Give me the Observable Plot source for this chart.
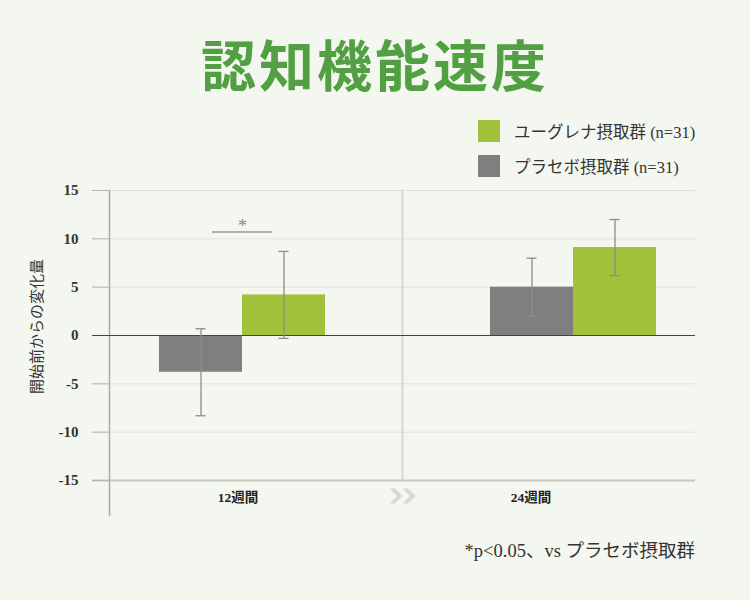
<!DOCTYPE html>
<html><head><meta charset="utf-8">
<script src="https://cdn.jsdelivr.net/npm/d3@7"></script>
<script src="https://cdn.jsdelivr.net/npm/@observablehq/plot@0.6"></script>
<style>
html,body{margin:0;padding:0;background:#f4f7ef;}
#wrap{position:relative;width:750px;height:600px;font-family:"Liberation Serif","Noto Sans CJK JP",serif;color:#333;overflow:hidden;}
#title{position:absolute;left:0;width:750px;top:32px;text-align:center;font-family:"Noto Sans CJK JP",sans-serif;font-weight:700;font-size:55px;color:#52a043;line-height:60px;letter-spacing:3px;}
.leg{position:absolute;left:478px;height:22px;display:flex;align-items:center;font-size:16.5px;color:#333;}
.sw{width:22px;height:22px;margin-right:14px;}
#caption{position:absolute;right:55px;top:540px;line-height:22px;font-size:18.5px;color:#333;}
#chart{position:absolute;left:0;top:0;}
</style></head>
<body><div id="wrap"><div id="chart"></div><div id="title"></div><div id="legend"></div><div id="caption"></div></div>
<script>
// ---- data ----
const title = "認知機能速度";
const groups = ["12週間", "24週間"];
const seriesKeys = ["euglena", "placebo"];
const seriesNames = ["ユーグレナ摂取群 (n=31)", "プラセボ摂取群 (n=31)"];
const placeboMean = [-3.8, 5.0];
const placeboErr = [4.5, 3.0];
const euglenaMean = [4.2, 9.1];
const euglenaErr = [4.5, 2.9];
const yTicks = [-15, -10, -5, 0, 5, 10, 15];
const yLabel = "開始前からの変化量";
const sigGroups = ["12週間"];
const sigLevels = [10.7];
const sigLabels = ["*"];
const caption = "*p<0.05、vs プラセボ摂取群";

// ---- layout / style ----
const W = 750, H = 600;
const M = {top: 190, right: 55, bottom: 120, left: 109};
const band = (W - M.left - M.right) / groups.length;
const barW = 83, capW = 10, sigW = 60;
const pairShift = [-13.5, 24.5];
const labelShift = -18;
const colors = {placebo: "#7f7f7f", euglena: "#a3c23c"};
const errColor = "#8d8d8d";

const rows = groups.flatMap((g, i) => [
  {group: g, key: "placebo", mean: placeboMean[i], err: placeboErr[i], c: pairShift[i] - barW / 2},
  {group: g, key: "euglena", mean: euglenaMean[i], err: euglenaErr[i], c: pairShift[i] + barW / 2}
]);
const sig = sigGroups.map((g, i) => ({group: g, level: sigLevels[i], label: sigLabels[i], c: pairShift[groups.indexOf(g)]}));

const ins = (c, w) => ({insetLeft: band / 2 + c - w / 2, insetRight: band / 2 - c - w / 2});

// double-chevron symbol (">>")
const chevrons = {
  draw(ctx) {
    for (const ox of [-6.5, 6.5]) {
      ctx.moveTo(ox - 6.5, -7.5);
      ctx.lineTo(ox - 1, -7.5);
      ctx.lineTo(ox + 6.5, 0);
      ctx.lineTo(ox - 1, 7.5);
      ctx.lineTo(ox - 6.5, 7.5);
      ctx.lineTo(ox + 1, 0);
      ctx.closePath();
    }
  }
};

const marks = [
  Plot.ruleY(yTicks.filter(v => v !== 0 && v !== yTicks[0]), {stroke: "#dde2d6", strokeWidth: 1, insetLeft: -17}),
  Plot.ruleY([yTicks[0]], {stroke: "#c5c9c0", strokeWidth: 2, insetLeft: -17}),
  Plot.ruleX([groups[1]], {x: d => d, dx: -band / 2, stroke: "#d5d8d0", strokeWidth: 2}),
  Plot.frame({anchor: "left", stroke: "#a9aca5", strokeWidth: 1.5, insetBottom: -35}),
  Plot.axisY({ticks: yTicks, tickSize: 17, tickPadding: 14, stroke: "#b5b8b0", fontSize: 15, fontWeight: "bold", fill: "#333", tickFormat: d => String(d), label: null}),
  Plot.text([yLabel], {frameAnchor: "left", textAnchor: "middle", text: d => d, rotate: -90, dx: -72, dy: -9, fontSize: 15, fill: "#333", fontFamily: "Noto Sans CJK JP"}),
  Plot.axisX({tickSize: 0, tickPadding: 12, dx: labelShift, fontSize: 13.5, fontWeight: "bold", fill: "#222", label: null}),
  Plot.dot([groups[1]], {x: d => d, dx: -band / 2, frameAnchor: "bottom", dy: 15.5, symbol: chevrons, fill: "#d6d9d1", stroke: "none"}),
  ...rows.map(r => Plot.barY([r], {x: "group", y: "mean", fill: colors[r.key], ...ins(r.c, barW)})),
  Plot.ruleY([0], {stroke: "#444", strokeWidth: 1.2, insetLeft: -17}),
  ...rows.map(r => Plot.ruleX([r], {x: "group", y1: d => d.mean - d.err, y2: d => d.mean + d.err, dx: r.c, stroke: errColor, strokeWidth: 1.3})),
  ...rows.flatMap(r => [d => d.mean - d.err, d => d.mean + d.err].map(f =>
    Plot.tickY([r], {x: "group", y: f, ...ins(r.c, capW), stroke: errColor, strokeWidth: 1.3}))),
  ...sig.map(s => Plot.tickY([s], {x: "group", y: "level", ...ins(s.c, sigW), stroke: "#999", strokeWidth: 1.5})),
  ...sig.map(s => Plot.text([s], {x: "group", y: "level", text: "label", dx: s.c, dy: -6, fontSize: 18, fill: "#888"}))
];

const chart = Plot.plot({
  width: W, height: H,
  marginTop: M.top, marginRight: M.right, marginBottom: M.bottom, marginLeft: M.left,
  x: {type: "band", domain: groups, padding: 0},
  y: {domain: [yTicks[0], yTicks[yTicks.length - 1]]},
  style: {background: "transparent", fontFamily: "'Liberation Serif','Noto Sans CJK JP',serif", overflow: "visible"},
  marks
});
document.getElementById("chart").appendChild(chart);

document.getElementById("title").textContent = title;
const legTop = [120, 155];
const legend = document.getElementById("legend");
seriesKeys.forEach((k, i) => {
  const d = document.createElement("div");
  d.className = "leg";
  d.style.top = legTop[i] + "px";
  const sw = document.createElement("div");
  sw.className = "sw";
  sw.style.background = colors[k];
  const t = document.createElement("span");
  t.textContent = seriesNames[i];
  d.appendChild(sw); d.appendChild(t);
  legend.appendChild(d);
});
document.getElementById("caption").textContent = caption;
</script>
</body></html>
